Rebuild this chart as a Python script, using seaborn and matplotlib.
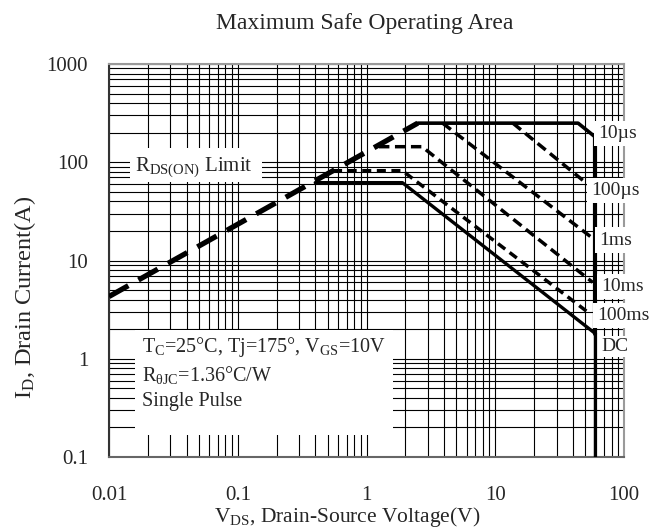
import numpy as np
import pandas as pd
import matplotlib
matplotlib.use("Agg")
import matplotlib.pyplot as plt
from matplotlib.ticker import LogLocator, FixedLocator, FixedFormatter, NullFormatter
from matplotlib.patches import Rectangle
import seaborn as sns

# ---------------- data ----------------
x_ticks = [0.01, 0.1, 1, 10, 100]
x_tick_labels = ["0.01", "0.1", "1", "10", "100"]
y_ticks = [0.1, 1, 10, 100, 1000]
y_tick_labels = ["0.1", "1", "10", "100", "1000"]

rds_x = [0.01, 2.5]
rds_y = [4.3, 250]

us10_x = [2.5, 44, 60]
us10_y = [250, 250, 180]

us100_x = [13.7, 52]
us100_y = [250, 60]

ms1_x = [3.9, 55]
ms1_y = [250, 17.5]

ms10_x = [1.25, 2.7, 57]
ms10_y = [144, 144, 6.0]

ms100_x = [0.55, 1.9, 52]
ms100_y = [82, 82, 3.0]

dc_x = [0.4, 1.9, 60, 60]
dc_y = [62, 62, 1.8, 0.1]

vmax_x = [60, 60]
vmax_y = [180, 1.8]

curve_labels = ["10\u00b5s", "100\u00b5s", "1ms", "10ms", "100ms", "DC"]

# ---------------- style ----------------
sns.set_style("white")
plt.rcParams["font.family"] = ["Liberation Serif", "DejaVu Serif"]
plt.rcParams["mathtext.fontset"] = "custom"
plt.rcParams["mathtext.rm"] = "Liberation Serif"
plt.rcParams["mathtext.it"] = "Liberation Serif:italic"
plt.rcParams["mathtext.bf"] = "Liberation Serif:bold"

W, H = 649, 532
fig = plt.figure(figsize=(W / 100, H / 100), dpi=100)
L, R, T, B = 109, 624, 64, 457
ax = fig.add_axes([L / W, 1 - B / H, (R - L) / W, (B - T) / H])

ax.set_xscale("log")
ax.set_yscale("log")
ax.set_xlim(0.01, 100)
ax.set_ylim(0.1, 1000)

ax.xaxis.set_major_locator(FixedLocator(x_ticks))
ax.xaxis.set_major_formatter(FixedFormatter(x_tick_labels))
ax.yaxis.set_major_locator(FixedLocator(y_ticks))
ax.yaxis.set_major_formatter(FixedFormatter(y_tick_labels))
ax.xaxis.set_minor_locator(LogLocator(base=10, subs=np.arange(2, 10), numticks=20))
ax.yaxis.set_minor_locator(LogLocator(base=10, subs=np.arange(2, 10), numticks=20))
ax.xaxis.set_minor_formatter(NullFormatter())
ax.yaxis.set_minor_formatter(NullFormatter())
ax.tick_params(which="both", length=0)
ax.tick_params(axis="x", pad=21, labelsize=15)
ax.tick_params(axis="y", pad=15, labelsize=15)
ax.set_axisbelow(True)
ax.grid(True, which="both", color="black", lw=0.8)

for side, col in [("left", "#333333"), ("bottom", "#666666"), ("top", "#9a9a9a"), ("right", "#9a9a9a")]:
    ax.spines[side].set_color(col)
    ax.spines[side].set_linewidth(1.5)
    ax.spines[side].set_visible(True)

# white boxes behind annotations (cover grid)
ax.add_patch(Rectangle((0.0505, 0.056), 0.5005, 0.267, transform=ax.transAxes,
                       facecolor="white", edgecolor="none", zorder=2))
ax.add_patch(Rectangle((0.041, 0.700), 0.256, 0.086, transform=ax.transAxes,
                       facecolor="white", edgecolor="none", zorder=2))

# ---------------- curves ----------------
def draw(xs, ys, lw, ls):
    sns.lineplot(x=xs, y=ys, ax=ax, color="black", lw=lw, linestyle=ls,
                 estimator=None, sort=False, zorder=3)

draw(rds_x, rds_y, 3.8, (0, (4.2, 2.2)))
draw(us10_x, us10_y, 2.6, "-")
draw(us100_x, us100_y, 2.5, (0, (3.0, 1.6)))
draw(ms1_x, ms1_y, 2.5, (0, (3.0, 1.6)))
draw(ms10_x, ms10_y, 2.5, (0, (3.0, 1.6)))
draw(ms100_x, ms100_y, 2.5, (0, (2.6, 1.6)))
draw(dc_x, dc_y, 2.4, "-")
draw(vmax_x, vmax_y, 3.0, "-")

# ---------------- texts ----------------
ax.text(0.05, 0.738, r"R$_\mathrm{DS(ON)}$ Limit", transform=ax.transAxes,
        fontsize=15, va="center", ha="left", zorder=5)

cond = [r"T$_\mathrm{C}$=25°C, Tj=175°, V$_\mathrm{GS}$=10V",
        r"R$_\mathrm{θJC}$=1.36°C/W",
        "Single Pulse"]
for s, yy in zip(cond, [0.280, 0.208, 0.140]):
    ax.text(0.064, yy, s, transform=ax.transAxes, fontsize=14.5,
            va="center", ha="left", zorder=5)

lab_pos = [(0.9495, 0.824), (0.936, 0.679), (0.951, 0.552),
           (0.955, 0.433), (0.948, 0.361), (0.957, 0.282)]
for s, (xx, yy) in zip(curve_labels, lab_pos):
    pad = 1.5 if s == "DC" else 3
    ax.text(xx, yy, s, transform=ax.transAxes, fontsize=14, va="center",
            ha="left", zorder=6, clip_on=False,
            bbox=dict(facecolor="white", edgecolor="none", pad=pad))

fig.text(365 / W, 1 - 23 / H, "Maximum Safe Operating Area", ha="center",
         va="center", fontsize=17)
fig.text(347 / W, 1 - 517 / H, r"V$_\mathrm{DS}$, Drain-Source Voltage(V)",
         ha="center", va="center", fontsize=15.5)
fig.text(25 / W, 1 - 297 / H, r"I$_\mathrm{D}$, Drain Current(A)",
         ha="center", va="center", fontsize=17.5, rotation=90)

fig.savefig("out.png", dpi=100, facecolor="white")
